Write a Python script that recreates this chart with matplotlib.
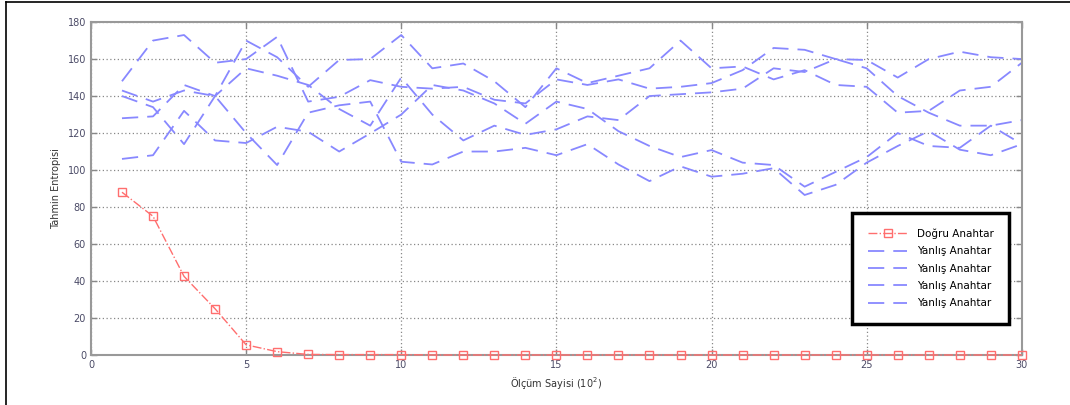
import matplotlib.pyplot as plt
from matplotlib.lines import Line2D

# measurement count (x 10^2)
olcum = list(range(1, 31))

# correct key guessing entropy
dogru = [88, 75, 42.5, 25, 5.5, 1.8, 0.3, 0.2, 0.2, 0.2,
         0, 0, 0, 0, 0, 0, 0, 0, 0, 0,
         0, 0, 0, 0, 0, 0, 0, 0, 0, 0]

# wrong key guessing entropies
yanlis_1 = [148, 170, 173, 158, 160, 172, 137, 139.6, 148.6, 145,
            144, 145, 138, 136, 149, 146, 149, 144, 145, 147,
            154, 166, 165, 160, 159.5, 150, 160, 164, 161, 160]
yanlis_2 = [140, 134, 114, 140, 170, 161, 145, 159.5, 160, 173,
            155, 157.6, 148, 134, 155, 147, 151, 155, 170, 155,
            156, 149, 154, 146, 145, 131, 132, 143, 145, 158]
yanlis_3 = [128, 129, 146, 140, 155, 151, 146, 133, 124, 150,
            130, 116, 124, 119, 122, 129, 127, 140, 141, 142,
            144, 155, 153, 160, 155, 140, 131, 124, 124, 127]
yanlis_4 = [143, 137, 143, 140, 120, 102.7, 131, 135, 137, 104.5,
            103, 110, 110, 112, 108, 114, 103, 94, 102, 96.4,
            98, 101, 86.5, 92, 104, 113, 121, 111, 108, 114]
yanlis_5 = [106, 108, 132, 116, 114.6, 123.4, 120.7, 110, 119.8, 130,
            146, 143, 136, 125, 137, 133, 121, 113, 107, 110.8,
            104, 102.7, 91, 99, 107, 120, 113, 112, 124, 114]

yanlis = [yanlis_1, yanlis_2, yanlis_3, yanlis_4, yanlis_5]

fig = plt.figure(figsize=(10.7, 4.05), dpi=100)
ax = fig.add_axes([0.085, 0.1235, 0.870, 0.822])

cizgiler = []
for seri in yanlis:
    c, = ax.plot(olcum, seri, color="#8888ff", linestyle=(0, (9, 5)),
                 linewidth=1.3, label="Yanlış Anahtar")
    cizgiler.append(c)
kirmizi, = ax.plot(olcum, dogru, color="#ff6e6e", linestyle="-.", linewidth=1.0,
                   marker="s", markersize=6, markerfacecolor="none",
                   markeredgecolor="#ff6e6e", markeredgewidth=1.0,
                   label="Doğru Anahtar", clip_on=False, zorder=5)

ax.set_xlim(0, 30)
ax.set_ylim(0, 180)
ax.set_xticks(range(0, 31, 5))
ax.set_yticks(range(0, 181, 20))
ax.grid(True, color="#888888", linestyle=(0, (1, 2)), linewidth=0.9)
ax.tick_params(direction="in", length=4, width=1, color="#888888",
               labelsize=7, labelcolor="#4a4a66", top=True, right=True)
for sp in ax.spines.values():
    sp.set_color("#999999")
    sp.set_linewidth(1.5)

ax.set_xlabel("Ölçüm Sayisi (10$^2$)", fontsize=7, color="#333333", labelpad=4)
ax.set_ylabel("Tahmin Entropisi", fontsize=7, color="#333333", labelpad=5)

# only the first four wrong-key lines get a legend entry
tutamaclar = [kirmizi] + cizgiler[:4]
leg = ax.legend(handles=tutamaclar, loc="lower right",
                bbox_to_anchor=(0.992, 0.078), fontsize=7.5,
                handlelength=3.8, borderpad=1.5, labelspacing=0.7,
                handletextpad=0.9, fancybox=False, framealpha=1,
                edgecolor="black")
leg.get_frame().set_linewidth(2.5)

# outer frame
fig.add_artist(Line2D([6 / 1070, 6 / 1070], [0, 1 - 2 / 405],
                      color="black", linewidth=1.2))
fig.add_artist(Line2D([6 / 1070, 1], [1 - 2 / 405, 1 - 2 / 405],
                      color="black", linewidth=1.2))

fig.savefig("out.png", dpi=100)
